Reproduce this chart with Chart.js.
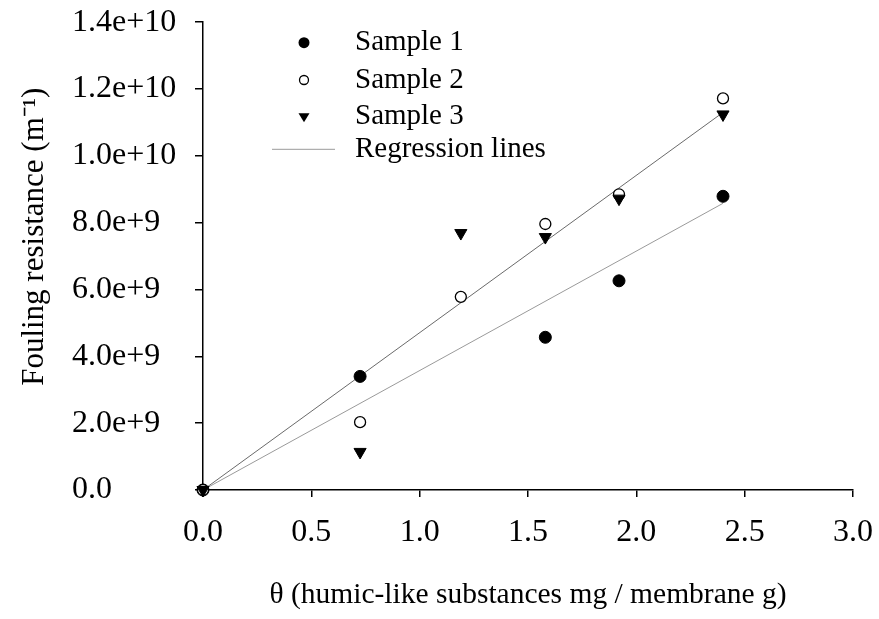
<!DOCTYPE html>
<html>
<head>
<meta charset="utf-8">
<script src="https://cdn.jsdelivr.net/npm/chart.js@4.4.0/dist/chart.umd.min.js"></script>
<style>
	html, body { margin: 0; padding: 0; background: #fff; }
</style>
</head>
<body>
<canvas id="myChart" width="879" height="619"></canvas>
<script>
// values
var sample1X = [0, 0.725, 1.58, 1.92, 2.40];
var sample1Y = [0, 3.40e9, 4.57e9, 6.26e9, 8.79e9];
var sample2X = [0, 0.725, 1.19, 1.58, 1.92, 2.40];
var sample2Y = [0, 2.03e9, 5.78e9, 7.96e9, 8.85e9, 11.72e9];
var sample3X = [0, 0.725, 1.19, 1.58, 1.92, 2.40];
var sample3Y = [0, 1.14e9, 7.69e9, 7.57e9, 8.72e9, 11.24e9];
var regX = [0, 2.40];
var regUpperY = [0, 11.30e9];
var regLowerY = [0, 8.58e9];
var xTicks = [0, 0.5, 1.0, 1.5, 2.0, 2.5, 3.0];
var yTicks = [0, 2e9, 4e9, 6e9, 8e9, 1e10, 1.2e10, 1.4e10];
var legendLabels = ["Sample 1", "Sample 2", "Sample 3", "Regression lines"];

var serif = "'Liberation Serif', 'Times New Roman', serif";

function pts(xs, ys) {
	return xs.map(function (x, i) { return { x: x, y: ys[i] }; });
}

// legend drawn inside the plot, like the original
var insideLegend = {
	id: "insideLegend",
	afterDraw: function (chart) {
		var ctx = chart.ctx;
		var mx = 304, tx = 355;
		var rows = [42.7, 80, 116.7, 149.3];
		ctx.save();
		ctx.font = "29px " + serif;
		ctx.fillStyle = "#000";
		ctx.textBaseline = "middle";
		ctx.textAlign = "left";
		legendLabels.forEach(function (t, i) {
			ctx.fillText(t, tx, rows[i]);
		});
		// markers
		ctx.strokeStyle = "#000";
		ctx.beginPath();
		ctx.arc(mx, rows[0], 5.5, 0, Math.PI * 2);
		ctx.fill();
		ctx.beginPath();
		ctx.lineWidth = 1.3;
		ctx.arc(mx, rows[1], 4.5, 0, Math.PI * 2);
		ctx.stroke();
		ctx.beginPath();
		ctx.moveTo(mx - 5.5, rows[2] - 3.5);
		ctx.lineTo(mx + 5.5, rows[2] - 3.5);
		ctx.lineTo(mx, rows[2] + 5.5);
		ctx.closePath();
		ctx.fill();
		ctx.beginPath();
		ctx.strokeStyle = "#9a9a9a";
		ctx.lineWidth = 1;
		ctx.moveTo(272, rows[3]);
		ctx.lineTo(335, rows[3]);
		ctx.stroke();
		ctx.restore();
	},
};

var ctx = document.getElementById("myChart").getContext("2d");
var myChart = new Chart(ctx, {
	type: "scatter",
	data: {
		datasets: [
			{
				label: "Sample 3",
				data: pts(sample3X, sample3Y),
				pointStyle: "triangle",
				rotation: 180,
				pointRadius: 7,
				backgroundColor: "#000",
				borderColor: "#000",
				borderWidth: 1,
				order: 0,
				clip: false,
			},
			{
				label: "Sample 2",
				data: pts(sample2X, sample2Y),
				pointStyle: "circle",
				pointRadius: 5.5,
				backgroundColor: "#fff",
				borderColor: "#000",
				borderWidth: 1.3,
				order: 1,
				clip: false,
			},
			{
				label: "Sample 1",
				data: pts(sample1X, sample1Y),
				pointStyle: "circle",
				pointRadius: 6,
				backgroundColor: "#000",
				borderColor: "#000",
				borderWidth: 1,
				order: 2,
				clip: false,
			},
			{
				label: "Regression lines",
				data: pts(regX, regUpperY),
				showLine: true,
				pointRadius: 0,
				borderColor: "#6a6a6a",
				borderWidth: 1,
				order: 3,
			},
			{
				label: "Regression lines",
				data: pts(regX, regLowerY),
				showLine: true,
				pointRadius: 0,
				borderColor: "#9a9a9a",
				borderWidth: 1,
				order: 4,
			},
		],
	},
	options: {
		responsive: false,
		animation: false,
		layout: { padding: { left: 72, top: 21, right: 26, bottom: 0 } },
		plugins: {
			legend: { display: false },
			tooltip: { enabled: false },
		},
		scales: {
			x: {
				type: "linear",
				position: "bottom",
				min: 0,
				max: 3,
				afterBuildTicks: function (s) {
					s.ticks = xTicks.map(function (v) { return { value: v }; });
				},
				afterFit: function (s) {
					s.height = 129;
					s.paddingLeft = 0;
					s.paddingRight = 0;
				},
				border: { color: "#000", width: 1.5 },
				grid: { drawOnChartArea: false, tickLength: 7, color: "#000", lineWidth: 1.5 },
				ticks: {
					color: "#000",
					font: { family: serif, size: 32 },
					padding: 16,
					maxRotation: 0,
					callback: function (v) { return v.toFixed(1); },
				},
				title: {
					display: true,
					text: "\u03b8 (humic-like substances mg / membrane g)",
					color: "#000",
					font: { family: serif, size: 29.5 },
					padding: { top: 0, bottom: 6 },
				},
			},
			y: {
				type: "linear",
				position: "left",
				min: 0,
				max: 1.4e10,
				afterBuildTicks: function (s) {
					s.ticks = yTicks.map(function (v) { return { value: v }; });
				},
				afterFit: function (s) { s.width = 131; },
				border: { color: "#000", width: 1.5 },
				grid: { drawOnChartArea: false, tickLength: 8, color: "#000", lineWidth: 1.5 },
				ticks: {
					color: "#000",
					crossAlign: "far",
					font: { family: serif, size: 32 },
					callback: function (v) { return v === 0 ? "0.0" : v.toExponential(1); },
				},
				title: {
					display: true,
					text: "     Fouling resistance (m\u207b\u00b9)",
					color: "#000",
					font: { family: serif, size: 31 },
					padding: { top: -56, bottom: 0 },
				},
			},
		},
	},
	plugins: [insideLegend],
});
</script>
</body>
</html>
